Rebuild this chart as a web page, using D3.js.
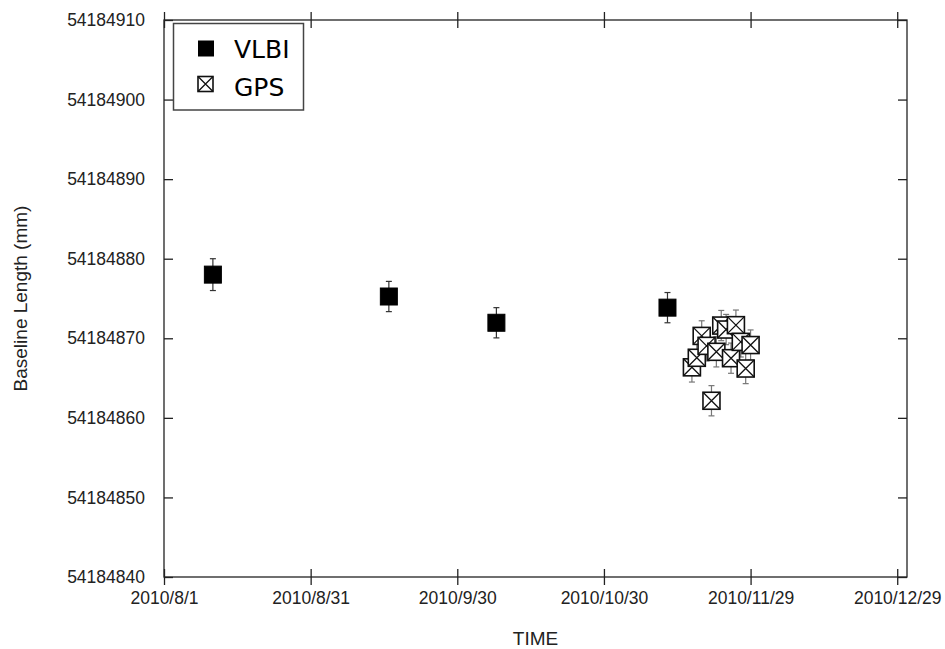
<!DOCTYPE html>
<html>
<head>
<meta charset="utf-8">
<script src="https://cdn.jsdelivr.net/npm/d3@7"></script>
<style>
  body { margin: 0; background: #fff; }
  svg text { font-family: "Liberation Sans", Arial, Helvetica, sans-serif; fill: #222; }
  .legend-label { font-family: "Comic Sans MS", "DejaVu Sans", sans-serif; }
</style>
</head>
<body>
<svg width="945" height="649"></svg>
<script>
var vlbiDates = ['2010-08-11', '2010-09-16', '2010-10-08', '2010-11-12'];
var vlbiValues = [54184878.0, 54184875.25, 54184871.95, 54184873.85];
var vlbiErrors = [2.0, 1.9, 1.9, 1.9];

var gpsDates = ['2010-11-17', '2010-11-18', '2010-11-19', '2010-11-20', '2010-11-21',
    '2010-11-22', '2010-11-23', '2010-11-24', '2010-11-25', '2010-11-26',
    '2010-11-27', '2010-11-28', '2010-11-29'];
var gpsValues = [54184866.35, 54184867.55, 54184870.3, 54184869.05, 54184862.15,
    54184868.3, 54184871.6, 54184871.1, 54184867.5, 54184871.65,
    54184869.55, 54184866.2, 54184869.15];
var gpsErrors = [1.85, 1.9, 1.9, 1.9, 1.9, 1.9, 1.9, 1.9, 1.9, 1.9, 1.9, 1.9, 1.9];

var xTickLabels = ['2010/8/1', '2010/8/31', '2010/9/30', '2010/10/30', '2010/11/29', '2010/12/29'];
var yTicks = [54184840, 54184850, 54184860, 54184870, 54184880, 54184890, 54184900, 54184910];

var svg = d3.select('svg');
var plot = {l: 164, r: 907, t: 20, b: 577};

function parseDay(s) {
    var p = s.split(/[-\/]/).map(Number);
    return new Date(Date.UTC(p[0], p[1] - 1, p[2]));
}

var xScale = d3.scaleUtc()
    .domain([parseDay('2010-08-01'), parseDay('2010-12-31')])
    .range([plot.l, plot.r]);

var yScale = d3.scaleLinear()
    .domain([54184840, 54184910])
    .range([plot.b, plot.t]);

var xTicks = xTickLabels.map(parseDay);
var fmtDate = function(d) {
    return d.getUTCFullYear() + '/' + (d.getUTCMonth() + 1) + '/' + d.getUTCDate();
};

// frame
svg.append('rect')
    .attr('x', plot.l).attr('y', plot.t)
    .attr('width', plot.r - plot.l).attr('height', plot.b - plot.t)
    .style('fill', 'none').style('stroke', '#222').style('stroke-width', 1.3);

// bottom axis (ticks cross the line)
var xAxis = d3.axisBottom(xScale).tickValues(xTicks).tickFormat(fmtDate)
    .tickSizeInner(8).tickSizeOuter(0).tickPadding(6);
var gx = svg.append('g').attr('class', 'x axis')
    .attr('transform', 'translate(0,' + plot.b + ')')
    .call(xAxis);
gx.selectAll('.tick line').attr('y1', -8);
gx.select('.domain').remove();
gx.selectAll('.tick text').style('font-size', '17.5px').attr('dy', '0.72em');

// top ticks
var gxt = svg.append('g').attr('transform', 'translate(0,' + plot.t + ')')
    .call(d3.axisTop(xScale).tickValues(xTicks).tickFormat('').tickSizeInner(8).tickSizeOuter(0));
gxt.selectAll('.tick line').attr('y1', 8);
gxt.select('.domain').remove();

// left axis
var yAxis = d3.axisLeft(yScale).tickValues(yTicks).tickFormat(d3.format('d'))
    .tickSizeInner(-9).tickSizeOuter(0).tickPadding(19);
var gy = svg.append('g').attr('class', 'y axis')
    .attr('transform', 'translate(' + plot.l + ',0)')
    .call(yAxis);
gy.select('.domain').remove();
gy.selectAll('.tick text').style('font-size', '17.5px');

// right ticks
var gyr = svg.append('g').attr('transform', 'translate(' + plot.r + ',0)')
    .call(d3.axisRight(yScale).tickValues(yTicks).tickFormat('').tickSizeInner(-9).tickSizeOuter(0));
gyr.select('.domain').remove();

svg.selectAll('.tick line').style('stroke', '#222').style('stroke-width', 1.3);

// axis titles
svg.append('text')
    .attr('transform', 'translate(27,' + ((plot.t + plot.b) / 2) + ') rotate(-90)')
    .attr('text-anchor', 'middle')
    .style('font-size', '19px')
    .text('Baseline Length (mm)');

svg.append('text')
    .attr('x', (plot.l + plot.r) / 2).attr('y', 645)
    .attr('text-anchor', 'middle')
    .style('font-size', '19px')
    .text('TIME');

// data
var vlbi = vlbiDates.map(function(d, i) {
    return {date: parseDay(d), value: vlbiValues[i], err: vlbiErrors[i]};
});
var gps = gpsDates.map(function(d, i) {
    return {date: parseDay(d), value: gpsValues[i], err: gpsErrors[i]};
});

var half = 8.5, cap = 3;

function errorBars(data, color) {
    var g = svg.append('g').style('stroke', color).style('stroke-width', 1.2);
    var eb = g.selectAll('g').data(data).enter().append('g');
    eb.append('line')
        .attr('x1', function(d) { return xScale(d.date); })
        .attr('x2', function(d) { return xScale(d.date); })
        .attr('y1', function(d) { return yScale(d.value + d.err); })
        .attr('y2', function(d) { return yScale(d.value - d.err); });
    [1, -1].forEach(function(s) {
        eb.append('line')
            .attr('x1', function(d) { return xScale(d.date) - cap; })
            .attr('x2', function(d) { return xScale(d.date) + cap; })
            .attr('y1', function(d) { return yScale(d.value + s * d.err); })
            .attr('y2', function(d) { return yScale(d.value + s * d.err); });
    });
}

errorBars(vlbi, '#333');
errorBars(gps, '#777');

function filledBox(g, cx, cy, h) {
    g.append('rect')
        .attr('x', cx - h).attr('y', cy - h)
        .attr('width', 2 * h).attr('height', 2 * h)
        .style('fill', '#000').style('stroke', '#000').style('stroke-width', 1);
}

function crossBox(g, cx, cy, h) {
    g.append('rect')
        .attr('x', cx - h).attr('y', cy - h)
        .attr('width', 2 * h).attr('height', 2 * h)
        .style('fill', '#fff').style('stroke', '#111').style('stroke-width', 1.6);
    g.append('path')
        .attr('d', 'M' + (cx - h) + ',' + (cy - h) + 'L' + (cx + h) + ',' + (cy + h) +
            'M' + (cx + h) + ',' + (cy - h) + 'L' + (cx - h) + ',' + (cy + h))
        .style('fill', 'none').style('stroke', '#111').style('stroke-width', 1.3);
}

var vg = svg.append('g');
vlbi.forEach(function(d) { filledBox(vg, xScale(d.date), yScale(d.value), half); });

var gg = svg.append('g');
gps.forEach(function(d) { crossBox(gg, xScale(d.date), yScale(d.value), half); });

// legend
var lg = svg.append('g');
lg.append('rect')
    .attr('x', 173.5).attr('y', 23.5).attr('width', 130).attr('height', 86.5)
    .style('fill', '#fff').style('stroke', '#444').style('stroke-width', 1.5);
filledBox(lg, 206, 48.5, 7.5);
crossBox(lg, 205.5, 84, 7.5);
lg.append('text').attr('class', 'legend-label')
    .attr('x', 234).attr('y', 58).style('font-size', '25px').style('fill', '#000')
    .text('VLBI');
lg.append('text').attr('class', 'legend-label')
    .attr('x', 234).attr('y', 96).style('font-size', '25px').style('fill', '#000')
    .text('GPS');
</script>
</body>
</html>
